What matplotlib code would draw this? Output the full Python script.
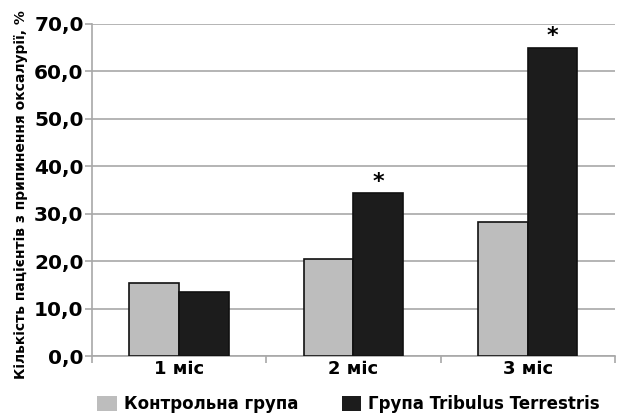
import numpy as np
import matplotlib.pyplot as plt
from matplotlib.patches import Patch

# data
categories = ['1 міс', '2 міс', '3 міс']
control = [15.4, 20.4, 28.2]
tribulus = [13.4, 34.3, 65.0]
significant = [False, True, True]
series_names = ['Контрольна група', 'Група Tribulus Terrestris']
yticks = np.arange(0, 71, 10)

plt.rcParams['font.family'] = ['DejaVu Sans']
plt.rcParams['font.weight'] = 'bold'

gray = '#bdbdbd'
dark = '#1c1c1c'
gridc = '#a8a8a8'

fig = plt.figure(figsize=(6.3, 4.13), dpi=100)
ax = fig.add_axes([0.146, 0.138, 0.83, 0.804])

x = np.arange(len(categories))
w = 0.285
ax.bar(x - w/2, control, w, color=gray, edgecolor='#111111', linewidth=1.2, zorder=3)
bars = ax.bar(x + w/2, tribulus, w, color=dark, edgecolor='#111111', linewidth=1.2, zorder=3)

# asterisks over significant bars
for b, s in zip(bars, significant):
    if s:
        ax.annotate('*', (b.get_x() + b.get_width()/2, b.get_height()),
                    xytext=(0, 1), textcoords='offset points',
                    ha='center', va='bottom', fontsize=16, fontweight='bold')

ax.set_xlim(-0.5, 2.5)
ax.set_ylim(0, 70)
ax.set_yticks(yticks)
ax.set_yticklabels([f'{v:.1f}'.replace('.', ',') for v in yticks],
                   fontsize=14.5, fontweight='bold')
ax.yaxis.grid(True, color=gridc, linewidth=1.2, zorder=0)

# category labels centred, tick marks on the boundaries
ax.set_xticks([-0.5, 0.5, 1.5, 2.5])
ax.set_xticklabels([])
ax.set_xticks(x, minor=True)
ax.set_xticklabels(categories, minor=True, fontsize=13, fontweight='bold')
ax.tick_params(axis='x', which='minor', length=0, pad=3)
ax.tick_params(axis='x', which='major', length=5, color=gridc, width=1.2)
ax.tick_params(axis='y', length=5, color=gridc, width=1.2, pad=1)

for side in ['top', 'right']:
    ax.spines[side].set_visible(False)
for side in ['left', 'bottom']:
    ax.spines[side].set_color(gridc)
    ax.spines[side].set_linewidth(1.2)

ax.set_ylabel('Кількість пацієнтів з припинення оксалурії, %', fontsize=10,
              fontweight='bold')
ax.yaxis.set_label_coords(-0.122, 0.485)

handles = [Patch(facecolor=gray, edgecolor='none'), Patch(facecolor=dark, edgecolor='none')]
fig.legend(handles, series_names, loc='lower left', bbox_to_anchor=(0.144, -0.016),
           ncol=2, frameon=False, prop={'size': 12, 'weight': 'bold'},
           handlelength=1.15, handleheight=1.0, columnspacing=2.6,
           handletextpad=0.45, borderaxespad=0)

fig.savefig('out.png', dpi=100)
